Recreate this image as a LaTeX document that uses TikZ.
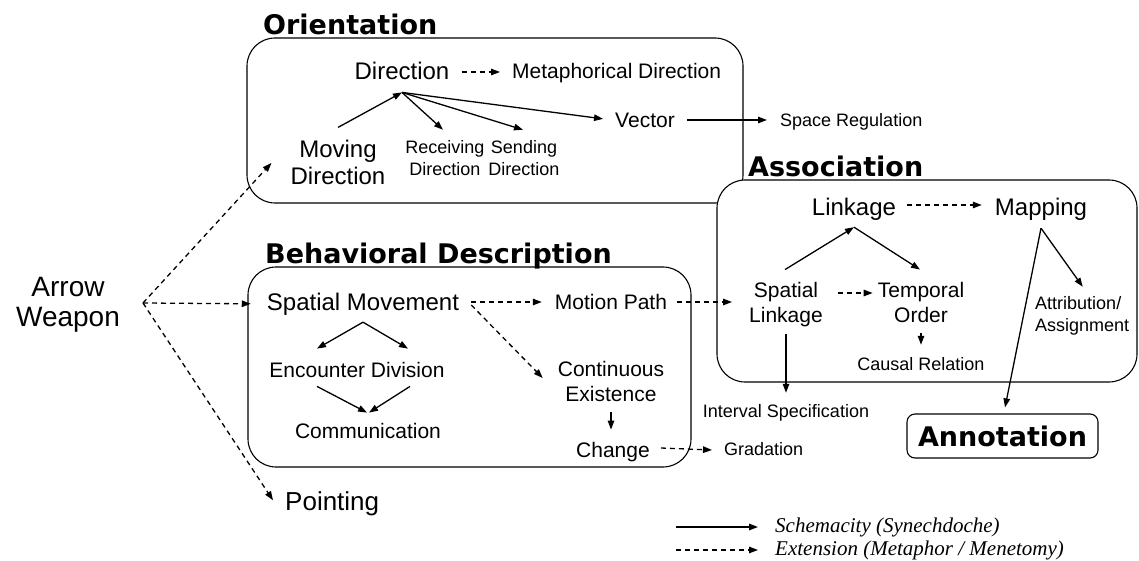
\documentclass[tikz,border=0pt]{standalone}
\usepackage{fontspec}
\setmainfont{Liberation Sans}
\newfontfamily\headfont{DejaVu Sans}
\newfontfamily\legfont{Liberation Serif}
\usetikzlibrary{calc,arrows.meta}

\begin{document}
\begin{tikzpicture}[x=1pt,y=-1pt,
  txtL/.style={inner sep=0pt,font=\fontsize{24}{27}\selectfont,align=center},
  txtM/.style={inner sep=0pt,font=\fontsize{21}{25}\selectfont,align=center},
  txtS/.style={inner sep=0pt,font=\fontsize{18}{22}\selectfont,align=center},
  head/.style={inner sep=0pt,anchor=base west,font=\headfont\bfseries\fontsize{27}{30}\selectfont},
  grpbox/.style={draw,line width=1.1pt,rounded corners=28pt,fill=white},
  schem/.style={line width=1.3pt,-{Triangle[length=9pt,width=6.5pt]}},
  exten/.style={schem,dash pattern=on 5pt off 4pt},
  legtxt/.style={inner sep=0pt,anchor=base west,font=\legfont\itshape\fontsize{21}{24}\selectfont}]
\useasboundingbox (0,0) rectangle (1139,561);
\draw[grpbox] (247,38) rectangle (743,203);
\draw[grpbox] (248,267) rectangle (691,467);
\draw[grpbox] (717,180) rectangle (1137,382);
\node[head] (orienthead) at (263,35) {Orientation};
\node[head] (behavhead) at (265,263) {Behavioral Description};
\node[head] (assochead) at (748,177) {Association};

\node[txtL,font=\fontsize{28}{30}\selectfont,anchor=base] (aw) at (68,326) {Arrow\\Weapon};
\node[txtL,font=\fontsize{26}{30}\selectfont,anchor=base west] (point) at (285,510) {Pointing};
\coordinate (fork) at (143,303);

\node[txtL,anchor=base] (dir) at (402,80) {Direction};
\node[txtM,anchor=base west] (metadir) at (512,79) {Metaphorical Direction};
\node[txtL,anchor=base] (movdir) at (338,185) {Moving\\Direction};
\node[txtS,anchor=base] (recv) at (445,176) {Receiving\\Direction};
\node[txtS,anchor=base] (send) at (524,176) {Sending\\Direction};
\node[txtM,anchor=base] (vect) at (645,128) {Vector};
\node[txtS,anchor=base west] (spacereg) at (780,127) {Space Regulation};

\node[txtL,anchor=base] (spmove) at (363,310) {Spatial Movement};
\node[txtM,anchor=base] (motion) at (611,309) {Motion Path};
\node[txtM,anchor=base] (encdiv) at (357,377) {Encounter Division};
\node[txtM,anchor=base] (comm) at (368,438) {Communication};
\node[txtM,anchor=base] (contex) at (611,401) {Continuous\\Existence};
\node[txtM,anchor=base] (change) at (613,457) {Change};
\node[txtS,anchor=base west] (grad) at (724,455) {Gradation};

\node[txtL,anchor=base] (linkage) at (854,215) {Linkage};
\node[txtL,anchor=base] (mapping) at (1041,215) {Mapping};
\node[txtM,anchor=base] (splink) at (786,322) {Spatial\\Linkage};
\node[txtM,anchor=base] (temporal) at (921,322) {Temporal\\Order};
\node[txtS,anchor=base] (causal) at (921,370) {Causal Relation};
\node[txtS,align=left,anchor=base west] (attrib) at (1035,331) {Attribution/\\Assignment};
\node[txtS,anchor=base] (interval) at (786,417) {Interval Specification};
\node[draw,line width=1.1pt,rounded corners=8pt,minimum width=191pt,minimum height=44pt,inner sep=0pt,
  font=\headfont\bfseries\fontsize{27}{30}\selectfont] (annot) at (1002.5,436) {Annotation};

\coordinate (dirhub) at ($(dir.south)+(0,12)$);
\coordinate (movehub) at ($(spmove.south)+(0,7)$);
\coordinate (linkhub) at ($(linkage.south)+(0,7)$);
\coordinate (maphub) at ($(mapping.south)+(0,8)$);

\draw[exten] (fork) -- ($(movdir.west)+(-19,0)$);
\draw[exten] (fork) -- ($(spmove.west)+(-16,0)$);
\draw[exten] (fork) -- ($(point.west)+(-12,-3)$);
\draw[exten] ($(dir.base east)+(12,-8)$) -- ($(metadir.base west)+(-12,-7)$);
\draw[exten] ($(spmove.base east)+(12,-8)$) -- ($(motion.base west)+(-13,-7)$);
\draw[exten] ($(spmove.base east)+(12,-5)$) -- ($(contex.west)+(-15,-3)$);
\draw[exten] ($(motion.base east)+(10,-7)$) -- ($(splink.base west)+(-17,-20)$);
\draw[exten] ($(change.base east)+(11,-9)$) -- ($(grad.base west)+(-12,-5)$);
\draw[exten] ($(splink.base east)+(15,-29)$) -- ($(temporal.base west)+(-5,-29)$);
\draw[exten] ($(linkage.base east)+(11,-10)$) -- ($(mapping.base west)+(-13,-10)$);

\draw[schem] ($(movdir.north)+(0,-13)$) -- (dirhub);
\draw[schem] (dirhub) -- ($(recv.north)+(-2,-11)$);
\draw[schem] (dirhub) -- ($(send.north)+(-1,-11)$);
\draw[schem] (dirhub) -- ($(vect.west)+(-12,-2)$);
\draw[schem] ($(vect.base east)+(12,-8)$) -- ($(spacereg.base west)+(-13,-7)$);
\draw[schem] (movehub) -- ($(encdiv.north)+(-40,-13)$);
\draw[schem] (movehub) -- ($(encdiv.north)+(51,-13)$);
\draw[schem] ($(encdiv.south)+(-40,9)$) -- ($(comm.north)+(-1,-10)$);
\draw[schem] ($(encdiv.south)+(53,9)$) -- ($(comm.north)+(1,-10)$);
\draw[schem] ($(contex.south)+(0,11)$) -- ($(change.north)+(-2,-12)$);
\draw[schem] ($(splink.north)+(-1,-12)$) -- (linkhub);
\draw[schem] (linkhub) -- ($(temporal.north)+(-1,-12)$);
\draw[schem] ($(temporal.south)+(0,11)$) -- ($(causal.north)+(0,-12)$);
\draw[schem] ($(splink.south)+(0,7)$) -- ($(interval.north)+(0,-11)$);
\draw[schem] (maphub) -- ($(attrib.north)+(0.5,-9)$);
\draw[schem] (maphub) -- ($(annot.north)+(2.5,-6)$);

\node[legtxt] (legschem) at (775,532) {Schemacity (Synechdoche)};
\node[legtxt] (legexten) at (775,555) {Extension (Metaphor / Menetomy)};
\coordinate (legA) at (676,527);
\coordinate (legB) at (676,550);
\draw[schem] (legA) -- ($(legschem.base west)+(-17,-5)$);
\draw[exten] (legB) -- ($(legexten.base west)+(-17,-5)$);
\end{tikzpicture}
\end{document}
